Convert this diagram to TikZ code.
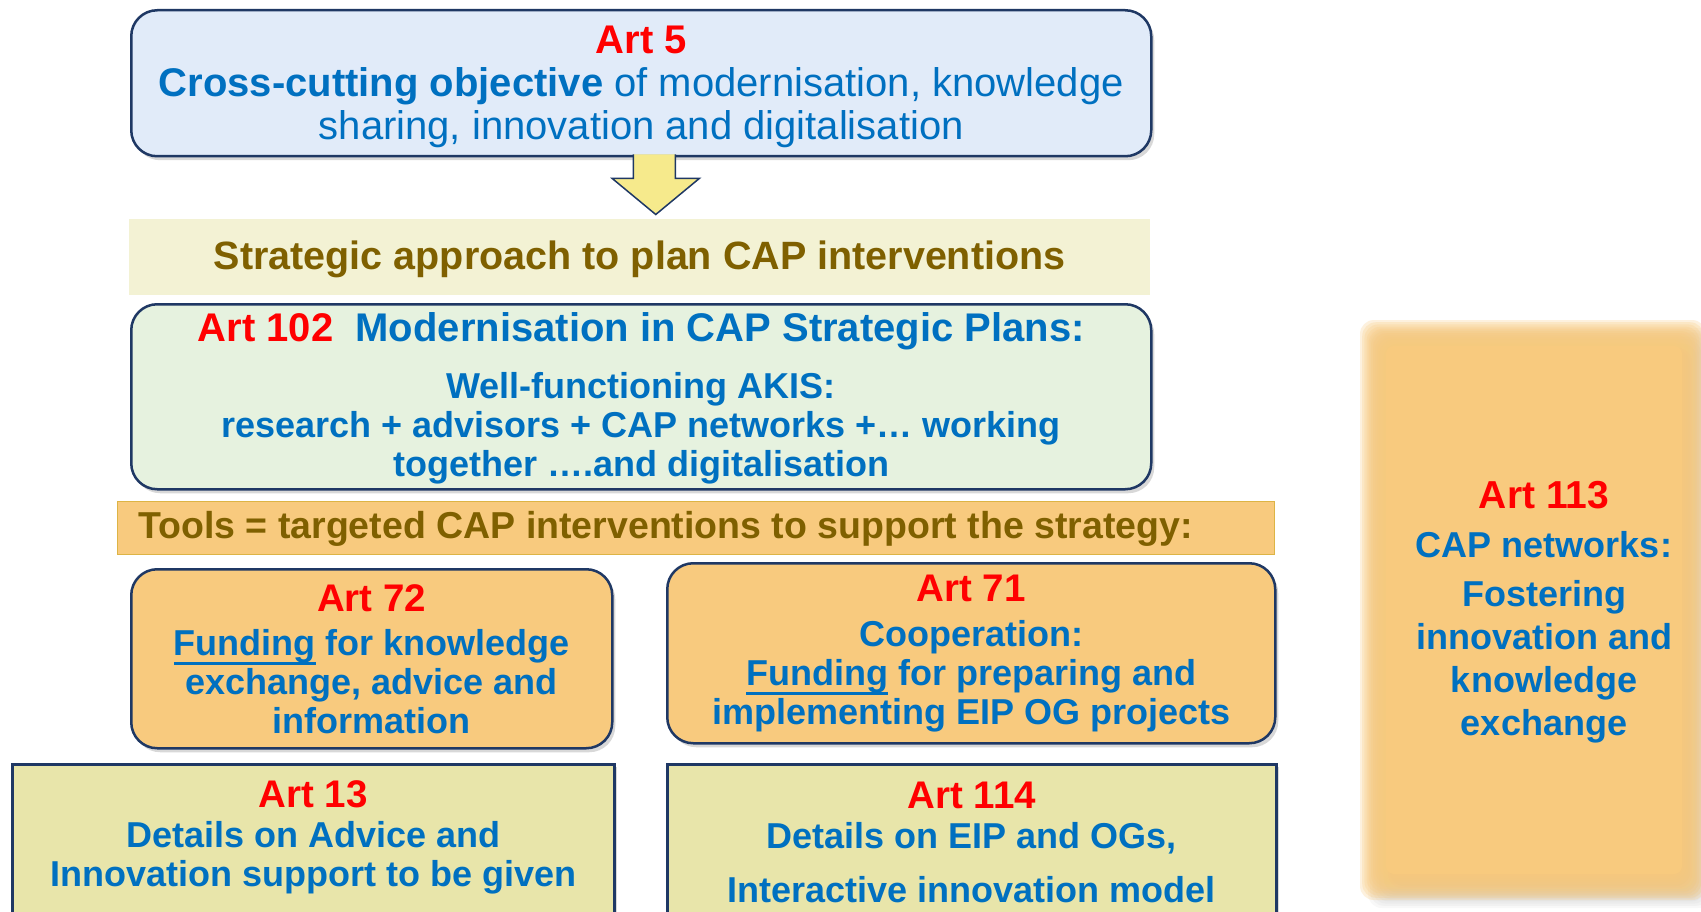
\documentclass[tikz,border=0pt]{standalone}
\usepackage{fontspec}
\setmainfont{Liberation Sans}
\usetikzlibrary{shadows,calc,backgrounds}
\definecolor{tblue}{HTML}{0070C0}
\definecolor{tred}{HTML}{FF0000}
\definecolor{tbrown}{HTML}{7F6000}
\definecolor{navy}{HTML}{1F3864}
\definecolor{fblue}{HTML}{E1EBF9}
\definecolor{fgreen}{HTML}{E6F2DF}
\definecolor{forange}{HTML}{F8CA7E}
\definecolor{folive}{HTML}{E8E5AA}
\definecolor{fband}{HTML}{F3F2D4}
\definecolor{arrowy}{HTML}{F6EA8C}
\definecolor{bandline}{HTML}{DDB445}
\newlength\ulw
\newcommand\fundul[1]{\settowidth{\ulw}{#1}\rlap{\rule[-10pt]{\ulw}{2.8pt}}#1}
\newcommand\artlbl[1]{{\color{tred}\fontsize{38.5}{42}\selectfont #1}}
\tikzset{
  rbox/.style={draw=navy, line width=2.5pt, rounded corners=26pt, anchor=north west,
    inner sep=0pt, align=center, text=tblue,
    drop shadow={shadow xshift=3pt, shadow yshift=-4pt, opacity=0.3}},
  sbox/.style={draw=navy, line width=2.5pt, anchor=north west, inner sep=0pt,
    drop shadow={shadow xshift=3pt, shadow yshift=-3pt, opacity=0.3}},
  band/.style={anchor=north west, inner sep=0pt},
  body/.style={font=\bfseries\fontsize{36}{39}\selectfont},
  inner/.style={align=center, text=tblue, inner sep=0pt, body},
}
\begin{document}
\begin{tikzpicture}[x=1pt,y=-1pt]
\useasboundingbox (0,0) rectangle (1701,912);
\clip (0,0) rectangle (1701,912);
\fill[white] (0,0) rectangle (1701,912);

% Art 5
\node[rbox, fill=fblue, minimum width=1020pt, minimum height=146pt,
  font=\fontsize{40}{43}\selectfont] (art5) at (130,9)
  {\rule{0pt}{35pt}{\bfseries\color{tred}Art 5}\\
   \textbf{Cross-cutting objective} of modernisation, knowledge\\
   sharing, innovation and digitalisation};

% Strategic band
\node[band, fill=fband, minimum width=1021pt, minimum height=76pt,
  font=\bfseries\fontsize{39.5}{43}\selectfont, text=tbrown] (strat) at (129,219)
  {\rule{0pt}{33pt}Strategic approach to plan CAP interventions};

% yellow block arrow
\draw[navy, line width=1.5pt, fill=arrowy, line join=miter]
  ($(art5.south)+(-8,-3)$) -- ($(art5.south)+(-8,21)$) -- ($(art5.south)+(-29,21)$)
  -- ($(art5.south)+(14.5,57)$)
  -- ($(art5.south)+(58,21)$) -- ($(art5.south)+(34,21)$) -- ($(art5.south)+(34,-3)$);

% Art 102
\node[rbox, fill=fgreen, minimum width=1020pt, minimum height=185pt, body] (art102) at (130,303)
  {{\fontsize{40}{44}\selectfont\rule{0pt}{31.6pt}{\color{tred}Art 102}\ \ Modernisation in CAP Strategic Plans:}\\[18pt]
   Well-functioning AKIS:\\
   research + advisors + CAP networks +… working\\
   together ….and digitalisation};

% Tools band
\node[band, draw=bandline, line width=1.2pt, fill=forange, minimum width=1157pt, minimum height=53pt] (tools) at (117,501) {};
\node[anchor=west, inner sep=0pt, font=\bfseries\fontsize{37.5}{40}\selectfont, text=tbrown] (toolst)
  at ($(tools.west)+(21,1)$) {Tools = targeted CAP interventions to support the strategy:};

% Art 72
\node[rbox, fill=forange, minimum width=481pt, minimum height=179pt, body] (art72) at (130,568)
  {\artlbl{Art 72}\\[5pt]
   \fundul{Funding} for knowledge\\
   exchange, advice and\\
   information};

% Art 71
\node[rbox, fill=forange, minimum width=608pt, minimum height=180pt, body] (art71) at (666,562)
  {\artlbl{Art 71}\\[6pt]
   Cooperation:\\
   \fundul{Funding} for preparing and\\
   implementing EIP OG projects};

% Art 13
\node[sbox, fill=folive, minimum width=602pt, minimum height=200pt] (art13) at (11,763) {};
\node[inner] (art13t) at ($(art13.north)+(0,74)$)
  {\artlbl{Art 13}\\[1pt]
   Details on Advice and\\
   Innovation support to be given};

% Art 114
\node[sbox, fill=folive, minimum width=609pt, minimum height=200pt] (art114) at (666,763) {};
\node[inner] (art114t) at ($(art114.north)+(0,79)$)
  {\artlbl{Art 114}\\[1pt]
   Details on EIP and OGs,\\[15pt]
   Interactive innovation model};

% Art 113 (blurred box)
\foreach \i in {0,...,11}{
  \pgfmathsetmacro\d{2.2*\i}
  \fill[black!45, opacity=0.06, rounded corners=14pt]
    (1368+\d,328+\d) rectangle (1712-\d,908-\d);
}
\foreach \i in {0,...,11}{
  \pgfmathsetmacro\d{2.2*\i}
  \fill[forange, opacity=0.25, rounded corners=14pt]
    (1360+\d,320+\d) rectangle (1706-\d,900-\d);
}
\fill[forange, rounded corners=8pt] (1386,346) rectangle (1682,874);
\node[align=center, inner sep=0pt, text=tblue, font=\bfseries\fontsize{36}{43}\selectfont] (art113)
  at (1544,612)
  {{\color{tred}\fontsize{39}{43}\selectfont Art 113}\\[6pt]
   CAP networks:\\[6pt]
   Fostering\\
   innovation and\\
   knowledge\\
   exchange};
\end{tikzpicture}
\end{document}
